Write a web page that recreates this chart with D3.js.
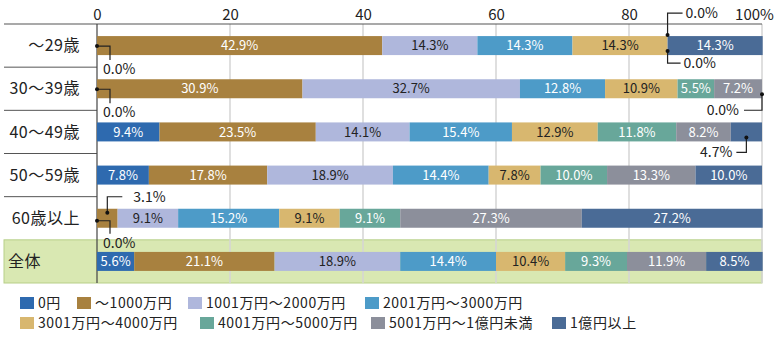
<!DOCTYPE html>
<html>
<head>
<meta charset="utf-8">
<script src="https://cdn.jsdelivr.net/npm/d3@7"></script>
<style>
  body { margin: 0; background: #fff; }
  svg text { font-family: "Noto Sans CJK JP", "Noto Sans", sans-serif; }
</style>
</head>
<body>
<div id="chart"></div>
<script>
// row labels, series names and colours
const ageGroups = ['～29歳', '30～39歳', '40～49歳', '50～59歳', '60歳以上', '全体'];
const assetBands = ['0円', '～1000万円', '1001万円～2000万円', '2001万円～3000万円',
  '3001万円～4000万円', '4001万円～5000万円', '5001万円～1億円未満', '1億円以上'];
const bandColors = ['#2e6aaf', '#a8813f', '#afb7dc', '#4d9bc8', '#d8b76f', '#68a79a', '#8c8f9b', '#4a6b96'];
const darkText = [false, false, true, false, true, false, false, false];

// shares (%) per age group, in assetBands order
const age29 = [0, 42.9, 14.3, 14.3, 14.3, 0, 0, 14.3];
const age30 = [0, 30.9, 32.7, 12.8, 10.9, 5.5, 7.2, 0];
const age40 = [9.4, 23.5, 14.1, 15.4, 12.9, 11.8, 8.2, 4.7];
const age50 = [7.8, 17.8, 18.9, 14.4, 7.8, 10.0, 13.3, 10.0];
const age60 = [0, 3.1, 9.1, 15.2, 9.1, 9.1, 27.3, 27.2];
const total = [5.6, 21.1, 18.9, 14.4, 10.4, 9.3, 11.9, 8.5];
const shares = [age29, age30, age40, age50, age60, total];

const xTicks = [0, 20, 40, 60, 80, 100];

// leader-line labels for segments too small to hold text
// kind 'hv': horizontal then vertical, text below; 'vh': vertical then horizontal
const callouts = [
  {row: 0, band: 0, kind: 'hv', dot: 10, bend: 24, arm: 13},
  {row: 0, band: 5, kind: 'vh', dot: -1, bend: -23, arm: 15, gap: 3},
  {row: 0, band: 6, kind: 'vh', dot: 15, bend: 27, arm: 13, gap: 3},
  {row: 1, band: 0, kind: 'hv', dot: 10, bend: 24, arm: 13},
  {row: 1, band: 7, kind: 'vh', dot: 15, bend: 31, arm: -18, gap: 5},
  {row: 2, band: 7, kind: 'vh', dot: 15, bend: 30, arm: -10, gap: 4},
  {row: 4, band: 1, kind: 'vh', dot: 4, bend: -12, arm: 15, gap: 11},
  {row: 4, band: 0, kind: 'hv', dot: 12, bend: 25, arm: 13}
];

const W = 780, H = 337;
const m = {left: 97, right: 762, top: 24, bottom: 283};
const barH = 19;

const svg = d3.select('#chart').append('svg')
  .attr('width', W).attr('height', H);

const x = d3.scaleLinear().domain([0, 100]).range([m.left, m.right]);
const y = d3.scaleBand().domain(ageGroups).range([m.top, m.bottom]).padding(0);
const barTop = d => y(d) + (y.bandwidth() - barH) / 2;

// stacked layout
const stacked = shares.map((vals, i) => {
  let acc = 0;
  return vals.map((v, j) => {
    const seg = {row: ageGroups[i], band: j, value: v, x0: acc, x1: acc + v};
    acc += v;
    return seg;
  });
});

// total row background
svg.append('rect')
  .attr('x', 4).attr('y', y('全体'))
  .attr('width', m.right - 4).attr('height', y.bandwidth())
  .attr('fill', '#d9e8b2').attr('stroke', '#b7cf88').attr('stroke-width', 1);

// grid lines
svg.append('g').selectAll('line')
  .data(xTicks.filter(d => d > 0))
  .join('line')
  .attr('x1', d => x(d)).attr('x2', d => x(d))
  .attr('y1', m.top).attr('y2', m.bottom)
  .attr('stroke', '#d4d4d4').attr('stroke-width', 1.5);

// row separators in the label column
svg.append('g').selectAll('line')
  .data(ageGroups.slice(1, 5))
  .join('line')
  .attr('x1', 4).attr('x2', m.left)
  .attr('y1', d => y(d)).attr('y2', d => y(d))
  .attr('stroke', '#555').attr('stroke-width', 1);

// header rule and zero line
svg.append('line')
  .attr('x1', 4).attr('x2', m.right).attr('y1', m.top).attr('y2', m.top)
  .attr('stroke', '#555').attr('stroke-width', 1.2);
svg.append('line')
  .attr('x1', m.left).attr('x2', m.left).attr('y1', m.top).attr('y2', m.bottom)
  .attr('stroke', '#444').attr('stroke-width', 1.2);

// top axis
const xAxis = d3.axisTop(x)
  .tickValues(xTicks)
  .tickSize(0)
  .tickFormat(d => d === 100 ? '100%' : d);
const xAxisG = svg.append('g')
  .attr('transform', `translate(0,${m.top - 1})`)
  .call(xAxis);
xAxisG.select('.domain').remove();
xAxisG.selectAll('text')
  .attr('font-family', '"Noto Sans", sans-serif')
  .attr('font-size', 15)
  .attr('fill', '#222')
  .attr('dy', '0em')
  .attr('dx', d => d === 100 ? -8 : 0);

// row labels
svg.append('g').selectAll('text')
  .data(ageGroups)
  .join('text')
  .attr('x', d => d === '全体' ? 8 : 80)
  .attr('y', d => y(d) + y.bandwidth() / 2)
  .attr('dy', '0.35em')
  .attr('text-anchor', d => d === '全体' ? 'start' : 'end')
  .attr('font-size', 16)
  .attr('letter-spacing', 0.5)
  .attr('fill', '#222')
  .text(d => d);

// bars
const rowsG = svg.append('g').selectAll('g')
  .data(stacked)
  .join('g');

rowsG.selectAll('rect')
  .data(d => d.filter(s => s.value > 0))
  .join('rect')
  .attr('x', d => x(d.x0))
  .attr('y', d => barTop(d.row))
  .attr('width', d => x(d.x1) - x(d.x0))
  .attr('height', barH)
  .attr('fill', d => bandColors[d.band]);

rowsG.selectAll('text')
  .data(d => d.filter(s => s.value >= 5))
  .join('text')
  .attr('x', d => x((d.x0 + d.x1) / 2))
  .attr('y', d => barTop(d.row) + barH / 2)
  .attr('dy', '0.36em')
  .attr('text-anchor', 'middle')
  .attr('font-size', 13)
  .attr('fill', d => darkText[d.band] ? '#222' : '#fff')
  .text(d => d.value.toFixed(1) + '%');

// callouts
const calloutG = svg.append('g');
callouts.forEach(c => {
  const seg = stacked[c.row][c.band];
  const cx = x(seg.value === 0 ? seg.x0 : (seg.x0 + seg.x1) / 2);
  const t = barTop(ageGroups[c.row]);
  let pts, tx, ty, anchor;
  if (c.kind === 'hv') {
    pts = [[cx, t + c.dot], [cx + c.arm, t + c.dot], [cx + c.arm, t + c.bend]];
    tx = cx + 6; ty = t + c.bend + 9; anchor = 'start';
  } else {
    pts = [[cx, t + c.dot], [cx, t + c.bend], [cx + c.arm, t + c.bend]];
    ty = t + c.bend;
    if (c.arm > 0) { tx = cx + c.arm + c.gap; anchor = 'start'; }
    else { tx = cx + c.arm - c.gap; anchor = 'end'; }
  }
  calloutG.append('path')
    .attr('d', d3.line()(pts))
    .attr('fill', 'none').attr('stroke', '#222').attr('stroke-width', 1.2);
  calloutG.append('circle')
    .attr('cx', cx).attr('cy', t + c.dot).attr('r', 2)
    .attr('fill', '#111');
  calloutG.append('text')
    .attr('x', tx).attr('y', ty).attr('dy', '0.36em')
    .attr('text-anchor', anchor)
    .attr('font-size', 14)
    .attr('fill', '#222')
    .text(seg.value.toFixed(1) + '%');
});

// legend
const legendPos = [[20, 303], [77, 303], [188, 303], [365, 303],
  [20, 323], [200, 323], [371, 323], [552, 323]];
const legend = svg.append('g').selectAll('g')
  .data(assetBands)
  .join('g')
  .attr('transform', (d, i) => `translate(${legendPos[i][0]},${legendPos[i][1]})`);
legend.append('rect')
  .attr('x', 0).attr('y', -6).attr('width', 14).attr('height', 12)
  .attr('fill', (d, i) => bandColors[i]);
legend.append('text')
  .attr('x', 18).attr('y', 0).attr('dy', '0.36em')
  .attr('font-family', '"Noto Sans", "Noto Sans CJK JP", sans-serif')
  .attr('font-size', 14)
  .attr('letter-spacing', 0.6)
  .attr('fill', '#222')
  .text(d => d);
</script>
</body>
</html>
